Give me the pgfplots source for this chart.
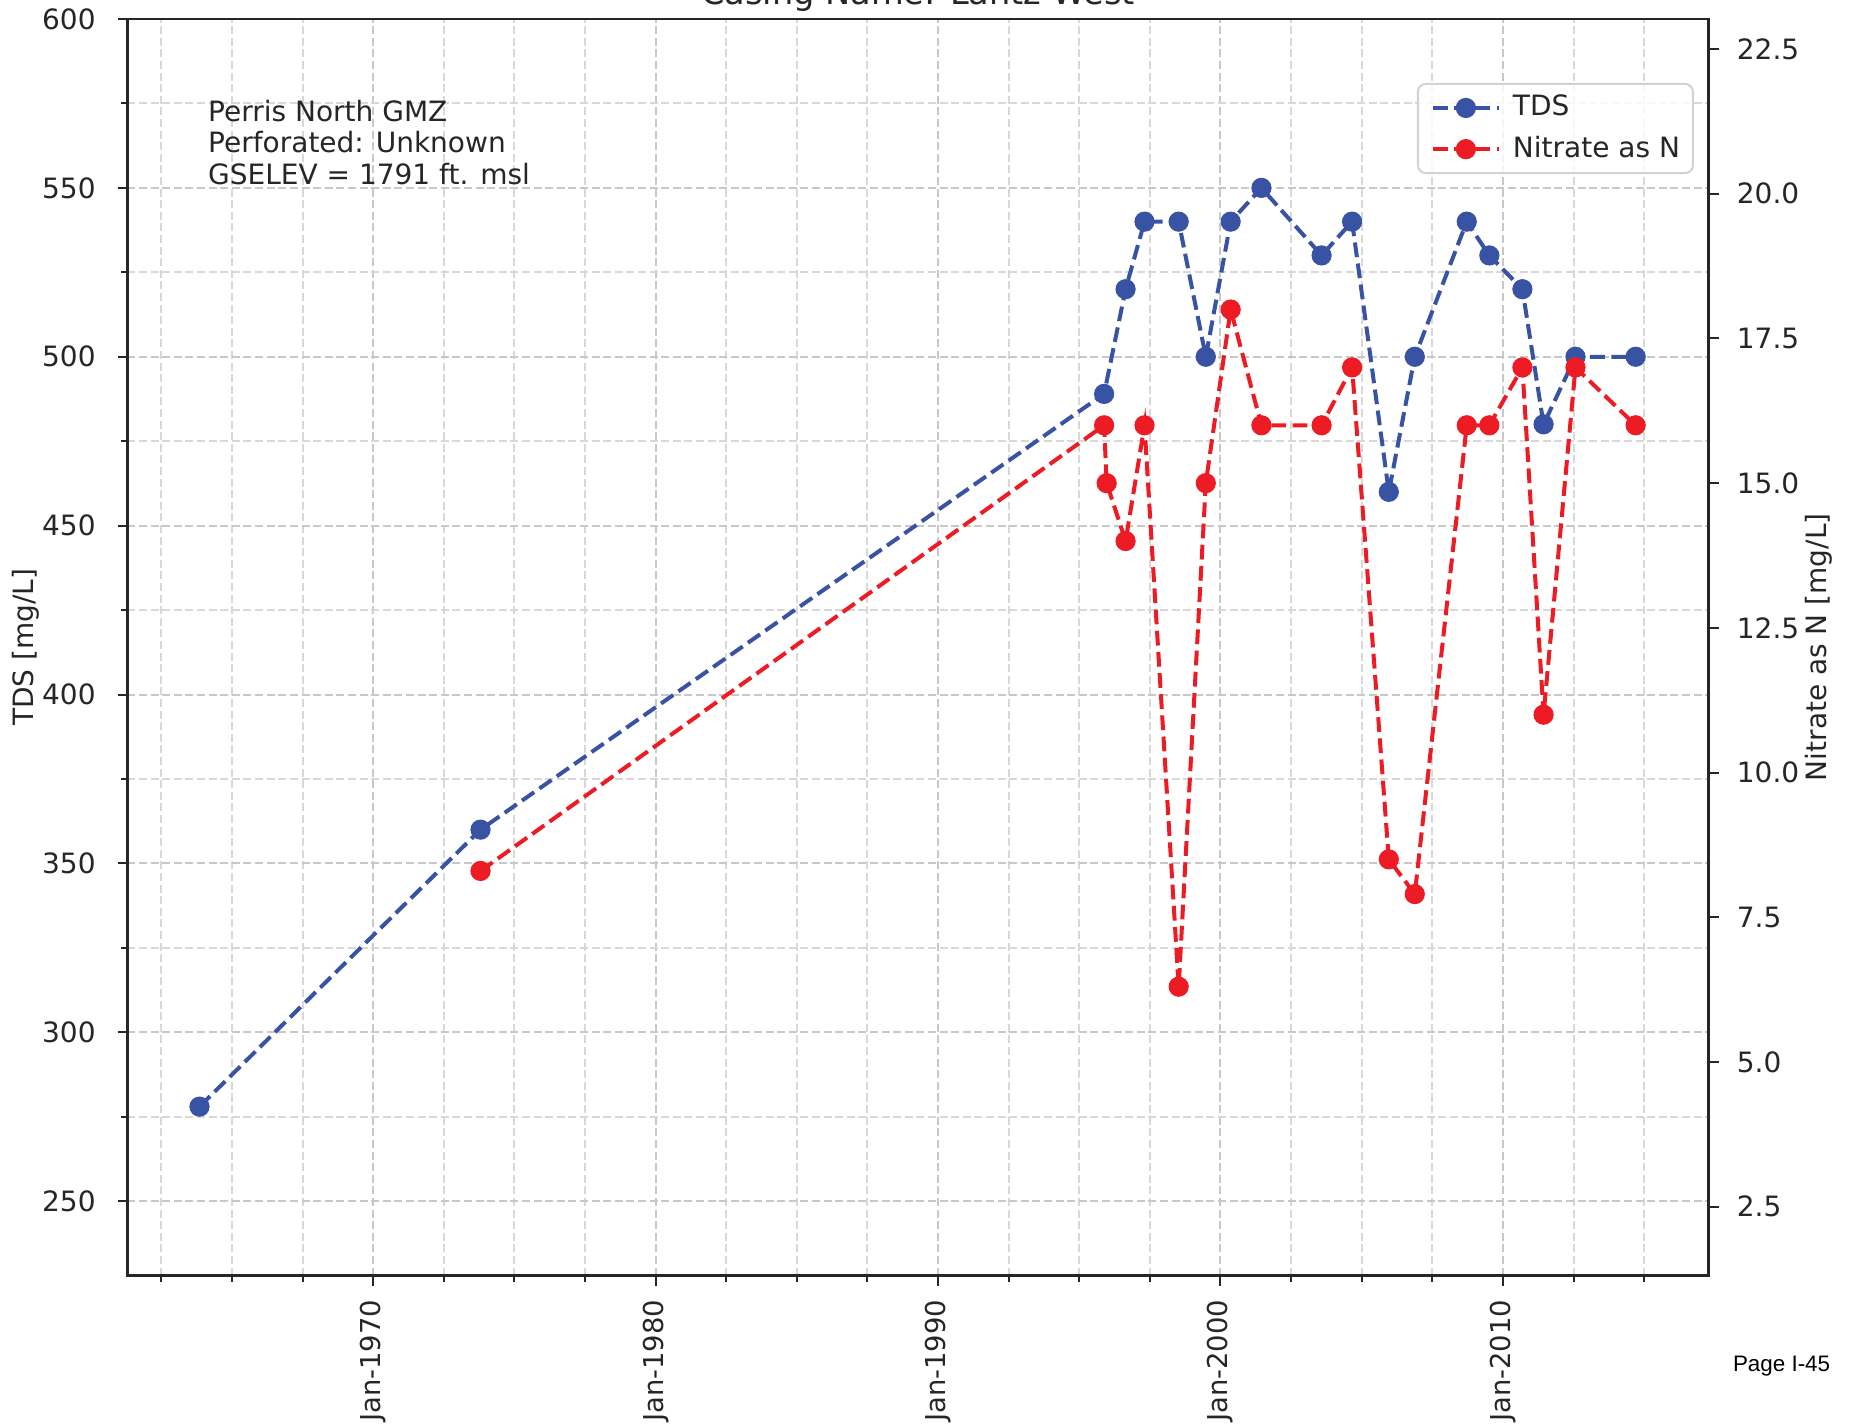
\documentclass[border=0pt]{standalone}
\usepackage{fontspec}
\setmainfont{DejaVu Sans}
\newfontfamily\pagefont{Liberation Sans}
\usepackage{pgfplots}
\pgfplotsset{compat=1.18}
\definecolor{tdsblue}{RGB}{57,83,164}
\definecolor{no3red}{RGB}{237,28,36}
\definecolor{txt}{RGB}{38,38,38}
\definecolor{majgrid}{RGB}{200,200,200}
\definecolor{mingrid}{RGB}{216,216,216}
\definecolor{legedge}{RGB}{210,210,210}

\pgfplotstableread{
x y
1963.85 278
1973.80 360
1995.88 489
1996.64 520
1997.31 540
1998.52 540
1999.48 500
2000.36 540
2001.45 550
2003.58 530
2004.66 540
2005.96 460
2006.88 500
2008.72 540
2009.52 530
2010.69 520
2011.44 480
2012.57 500
2014.70 500
}\tdsdata

\pgfplotstableread{
x y
1973.80 8.3
1995.88 16.0
1995.97 15.0
1996.64 14.0
1997.31 16.0
1998.52 6.3
1999.48 15.0
2000.36 18.0
2001.45 16.0
2003.58 16.0
2004.66 17.0
2005.96 8.5
2006.88 7.9
2008.72 16.0
2009.52 16.0
2010.69 17.0
2011.44 11.0
2012.57 17.0
2014.70 16.0
}\nodata

\pgfplotsset{
  common/.style={
    scale only axis, width=790.5pt, height=628.25pt, at={(0,0)}, anchor=south west,
    xmin=1961.3, xmax=2017.28,
    axis line style={txt, line width=1.25pt},
    tick style={txt, line width=1pt},
    tick align=outside,
    major tick length=5pt, minor tick length=3pt,
    every tick label/.append style={font=\fontsize{14}{16.8}\selectfont, text=txt, inner sep=0pt},
    label style={font=\fontsize{14}{16.8}\selectfont, text=txt},
    /pgf/number format/assume math mode=true,
  },
  tdsline/.style={tdsblue, line width=2pt, dash pattern=on 7.4pt off 3.2pt, mark=*, mark size=4.8pt, mark options={solid, fill=tdsblue, draw=tdsblue, line width=0.5pt}},
  noline/.style={no3red, line width=2pt, dash pattern=on 7.4pt off 3.2pt, mark=*, mark size=4.8pt, mark options={solid, fill=no3red, draw=no3red, line width=0.5pt}},
}

\begin{document}
\begin{tikzpicture}
\begin{axis}[common,
  ymin=228, ymax=600,
  ytick={250,300,...,600},
  minor ytick={275,325,...,575},
  xtick={1970,1980,1990,2000,2010},
  xticklabels={Jan-1970,Jan-1980,Jan-1990,Jan-2000,Jan-2010},
  minor xtick={1962.5,1965,1967.5,1972.5,1975,1977.5,1982.5,1985,1987.5,1992.5,1995,1997.5,2002.5,2005,2007.5,2012.5,2015},
  xtick pos=bottom, ytick pos=left,
  xticklabel style={rotate=90, anchor=east, font=\fontsize{13.7}{16}\selectfont},
  xticklabel shift=7pt,
  yticklabel shift=10.75pt,
  yticklabel style={anchor=east},
  grid=both,
  major grid style={majgrid, line width=1pt, dash pattern=on 4pt off 1.8pt},
  minor grid style={mingrid, line width=1pt, dash pattern=on 4pt off 1.8pt},
  ylabel={TDS [mg/L]},
  ylabel style={at={(axis description cs:-0.0642,0.5)}, anchor=center, rotate=0},
  clip=false,
]
\addplot[tdsline] table[x=x,y=y] {\tdsdata};
\node[anchor=base, font=\fontsize{16.8}{20}\selectfont, text=txt, inner sep=0pt] at (axis description cs:0.5,1.0119) {Casing Name: Lantz West};
\node[anchor=base west, font=\fontsize{14}{16.8}\selectfont, text=txt, inner sep=0pt] at (axis description cs:0.0508,0.91834) {Perris North GMZ};
\node[anchor=base west, font=\fontsize{14}{16.8}\selectfont, text=txt, inner sep=0pt] at (axis description cs:0.0508,0.89343) {Perforated: Unknown};
\node[anchor=base west, font=\fontsize{14}{16.8}\selectfont, text=txt, inner sep=0pt] at (axis description cs:0.0508,0.86852) {GSELEV = 1791 ft. msl};
\node[anchor=west, font=\pagefont\fontsize{11.2}{13}\selectfont, text=black, inner sep=0pt] at (axis description cs:1.01524,-0.07234) {Page I-45};
\node[rotate=90, anchor=center, font=\fontsize{14}{16.8}\selectfont, text=txt, inner sep=0pt] at (axis description cs:1.070,0.5) {Nitrate as N [mg/L]};
\end{axis}
\begin{axis}[common,
  ymin=1.31, ymax=23.02,
  axis y line*=right, axis x line=none,
  ytick={2.5,5,...,22.5},
  yticklabel style={anchor=west, /pgf/number format/.cd, fixed, fixed zerofill, precision=1},
  yticklabel shift=9pt,
  legend style={at={(axis description cs:0.9908,0.9491)}, anchor=north east, draw=legedge, line width=1pt, rounded corners=4pt, fill=white, fill opacity=0.8, text opacity=1, font=\fontsize{14}{16.8}\selectfont, text=txt, inner xsep=6.5pt, inner ysep=5pt, row sep=6.6pt, column sep=6pt, nodes={inner sep=0pt, text height=11pt, text depth=3pt}},
  legend cell align=left,
  legend image code/.code={\draw[#1, fill opacity=1, draw opacity=1, mark repeat=2, mark phase=2] plot coordinates {(0pt,0pt) (16.5pt,0pt) (33pt,0pt)};},
]
\addlegendimage{tdsline}
\addlegendentry{TDS}
\addplot[noline] table[x=x,y=y] {\nodata};
\addlegendentry{Nitrate as N}
\end{axis}
\pgfresetboundingbox
\path[use as bounding box] (-63.75pt,-74.25pt) rectangle (862.25pt,637.75pt);
\end{tikzpicture}
\end{document}
